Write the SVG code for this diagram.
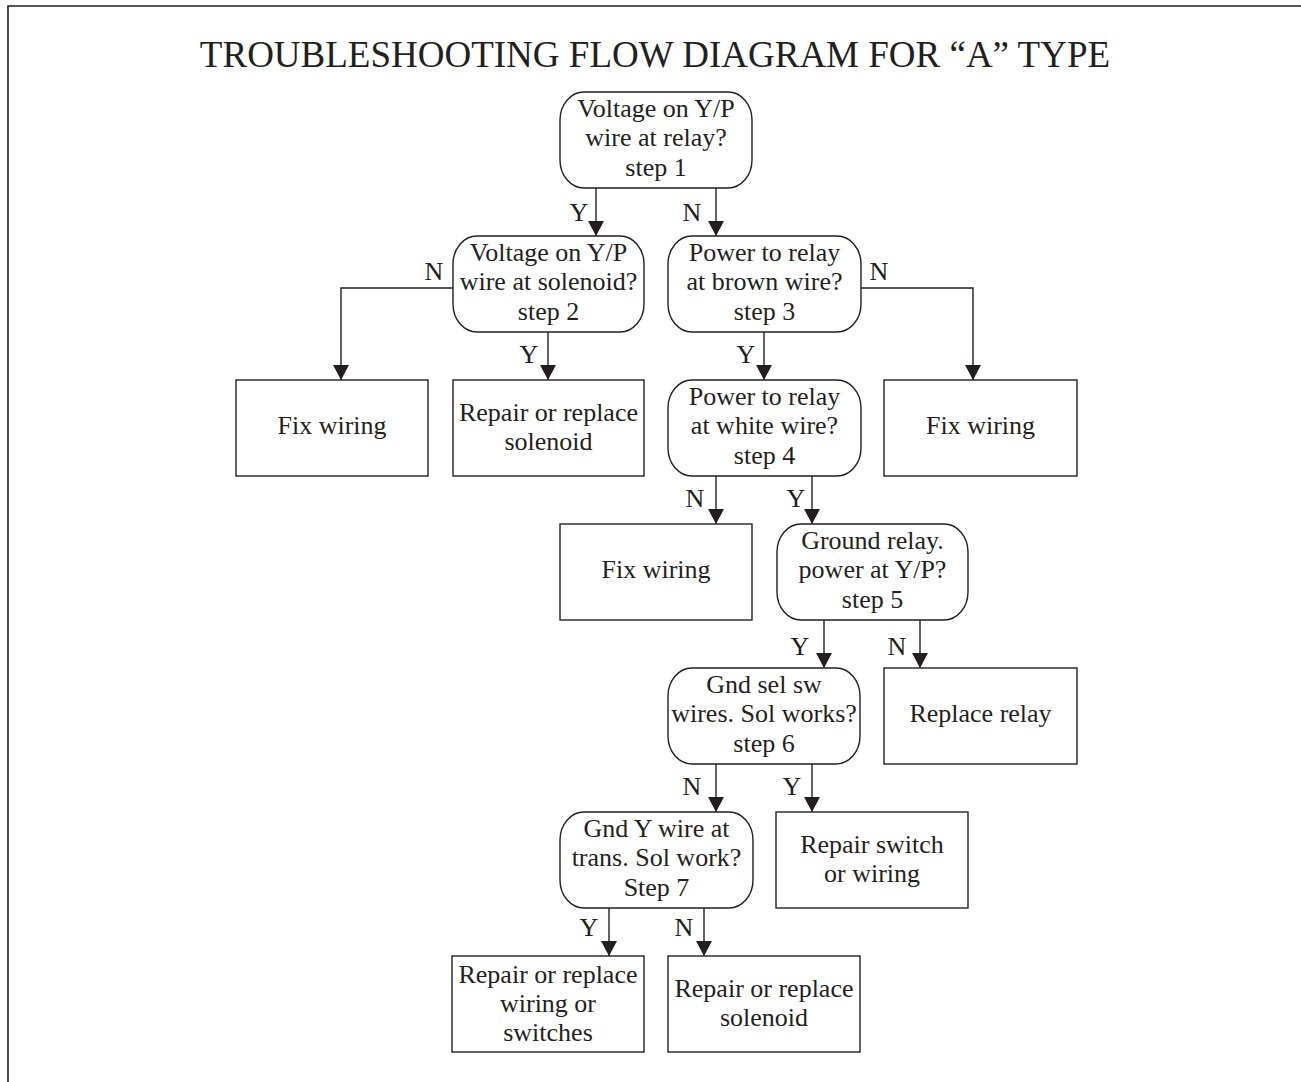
<svg xmlns="http://www.w3.org/2000/svg" width="1301" height="1082" viewBox="0 0 1301 1082">
<defs>
<style>
.t{font-family:"Liberation Serif","Times New Roman",serif;fill:#231f20;}
.nt{font-size:26px;text-anchor:middle;}
.lbl{font-size:26px;text-anchor:middle;}
.box{fill:#fff;stroke:#231f20;stroke-width:1.4;}
.con{fill:none;stroke:#231f20;stroke-width:1.4;}
</style>
<marker id="ah" markerUnits="userSpaceOnUse" viewBox="0 0 15 16" markerWidth="15" markerHeight="16" refX="15" refY="8" orient="auto">
<path d="M0,0 L15,8 L0,16 Z" fill="#231f20"/>
</marker>
</defs>
<rect width="1301" height="1082" fill="#fff"/>
<g id="frame" stroke="#231f20" stroke-width="1.6" fill="none">
<path d="M8,1082 L8,6 L1301,6"/>
</g>
<text id="title" class="t" x="655" y="67" font-size="37" text-anchor="middle">TROUBLESHOOTING FLOW DIAGRAM FOR “A” TYPE</text>

<g id="connectors">
<path class="con" d="M596,188 V236" marker-end="url(#ah)"/>
<path class="con" d="M716,188 V236" marker-end="url(#ah)"/>
<path class="con" d="M453,288 H341 V380" marker-end="url(#ah)"/>
<path class="con" d="M548,332 V380" marker-end="url(#ah)"/>
<path class="con" d="M764,332 V380" marker-end="url(#ah)"/>
<path class="con" d="M861,288 H973 V380" marker-end="url(#ah)"/>
<path class="con" d="M716,476 V524" marker-end="url(#ah)"/>
<path class="con" d="M812,476 V524" marker-end="url(#ah)"/>
<path class="con" d="M824,620 V668" marker-end="url(#ah)"/>
<path class="con" d="M920,620 V668" marker-end="url(#ah)"/>
<path class="con" d="M716,764 V812" marker-end="url(#ah)"/>
<path class="con" d="M812,764 V812" marker-end="url(#ah)"/>
<path class="con" d="M609,908 V956" marker-end="url(#ah)"/>
<path class="con" d="M704,908 V956" marker-end="url(#ah)"/>
<g class="t lbl">
<text x="579" y="221">Y</text>
<text x="692" y="221">N</text>
<text x="434" y="280">N</text>
<text x="529" y="363">Y</text>
<text x="746" y="363">Y</text>
<text x="879" y="280">N</text>
<text x="695" y="507">N</text>
<text x="796" y="507">Y</text>
<text x="800" y="655">Y</text>
<text x="897" y="655">N</text>
<text x="692" y="795">N</text>
<text x="792" y="795">Y</text>
<text x="589" y="936">Y</text>
<text x="684" y="936">N</text>
</g>
</g>

<g id="step1">
<rect class="box" x="560" y="92" width="192" height="96" rx="24" ry="28"/>
<text class="t nt" x="656"><tspan x="656" y="117">Voltage on Y/P</tspan><tspan x="656" y="146">wire at relay?</tspan><tspan x="656" y="176">step 1</tspan></text>
</g>
<g id="step2">
<rect class="box" x="453" y="236" width="191" height="96" rx="24" ry="28"/>
<text class="t nt"><tspan x="548.5" y="261">Voltage on Y/P</tspan><tspan x="548.5" y="290">wire at solenoid?</tspan><tspan x="548.5" y="320">step 2</tspan></text>
</g>
<g id="step3">
<rect class="box" x="668" y="236" width="193" height="96" rx="24" ry="28"/>
<text class="t nt"><tspan x="764.5" y="261">Power to relay</tspan><tspan x="764.5" y="290">at brown wire?</tspan><tspan x="764.5" y="320">step 3</tspan></text>
</g>
<g id="fix1">
<rect class="box" x="236" y="380" width="192" height="96"/>
<text class="t nt" x="332" y="434">Fix wiring</text>
</g>
<g id="solenoid1">
<rect class="box" x="453" y="380" width="191" height="96"/>
<text class="t nt"><tspan x="548.5" y="421">Repair or replace</tspan><tspan x="548.5" y="450">solenoid</tspan></text>
</g>
<g id="step4">
<rect class="box" x="668" y="380" width="193" height="96" rx="24" ry="28"/>
<text class="t nt"><tspan x="764.5" y="405">Power to relay</tspan><tspan x="764.5" y="434">at white wire?</tspan><tspan x="764.5" y="464">step 4</tspan></text>
</g>
<g id="fix2">
<rect class="box" x="884" y="380" width="193" height="96"/>
<text class="t nt" x="980.5" y="434">Fix wiring</text>
</g>
<g id="fix3">
<rect class="box" x="560" y="524" width="192" height="96"/>
<text class="t nt" x="656" y="578">Fix wiring</text>
</g>
<g id="step5">
<rect class="box" x="777" y="524" width="191" height="96" rx="24" ry="28"/>
<text class="t nt"><tspan x="872.5" y="549">Ground relay.</tspan><tspan x="872.5" y="578">power at Y/P?</tspan><tspan x="872.5" y="608">step 5</tspan></text>
</g>
<g id="step6">
<rect class="box" x="668" y="668" width="192" height="96" rx="24" ry="28"/>
<text class="t nt"><tspan x="764" y="693">Gnd sel sw</tspan><tspan x="764" y="722">wires. Sol works?</tspan><tspan x="764" y="752">step 6</tspan></text>
</g>
<g id="relay">
<rect class="box" x="884" y="668" width="193" height="96"/>
<text class="t nt" x="980.5" y="722">Replace relay</text>
</g>
<g id="step7">
<rect class="box" x="560" y="812" width="193" height="96" rx="24" ry="28"/>
<text class="t nt"><tspan x="656.5" y="837">Gnd Y wire at</tspan><tspan x="656.5" y="866">trans. Sol work?</tspan><tspan x="656.5" y="896">Step 7</tspan></text>
</g>
<g id="switch">
<rect class="box" x="776" y="812" width="192" height="96"/>
<text class="t nt"><tspan x="872" y="853">Repair switch</tspan><tspan x="872" y="882">or wiring</tspan></text>
</g>
<g id="wiring">
<rect class="box" x="452" y="956" width="192" height="96"/>
<text class="t nt"><tspan x="548" y="983">Repair or replace</tspan><tspan x="548" y="1012">wiring or</tspan><tspan x="548" y="1041">switches</tspan></text>
</g>
<g id="solenoid2">
<rect class="box" x="668" y="956" width="192" height="96"/>
<text class="t nt"><tspan x="764" y="997">Repair or replace</tspan><tspan x="764" y="1026">solenoid</tspan></text>
</g>
</svg>
